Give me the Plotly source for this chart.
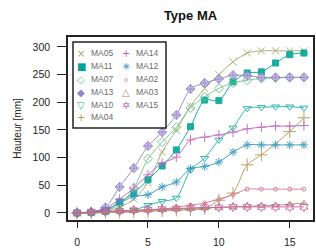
import plotly.graph_objects as go

# ---------------- data ----------------
days = list(range(17))
x_ticks = [0, 5, 10, 15]
y_ticks = [0, 50, 100, 150, 200, 250, 300]

MA05 = [0, 1, 3, 10, 25, 55, 110, 150, 193, 225, 250, 273, 289, 293, 293, 293, 293]
MA11 = [0, 1, 3, 20, 36, 60, 85, 114, 156, 204, 203, 237, 253, 255, 271, 286, 289]
MA07 = [0, 1, 4, 15, 45, 98, 128, 155, 190, 210, 225, 235, 240, 243, 244, 245, 245]
MA13 = [0, 2, 10, 47, 81, 121, 146, 177, 224, 235, 242, 249, 248, 245, 245, 245, 245]
MA10 = [0, 0, 1, 2, 5, 14, 21, 27, 78, 99, 132, 154, 189, 191, 192, 192, 190]
MA04 = [0, 0, 1, 1, 2, 3, 4, 5, 6, 8, 23, 36, 87, 105, None, 147, 172]
MA14 = [0, 2, 8, 25, 45, 69, 90, 101, 132, 137, 141, 146, 152, 155, 157, 157, 158]
MA12 = [0, 2, 6, 18, 30, 33, 47, 56, 80, 84, 92, 110, 123, 123, 123, 123, 123]
MA02 = [0, 1, 2, 3, 4, 5, 7, 10, 14, 18, 25, 33, 43, 43, 43, 43, 43]
MA03 = [0, 1, 2, 3, 4, 5, 6, 7, 8, 9, 10, 11, 12, 13, 14, 16, 18]
MA15 = [0, 2, 3, 4, 5, 6, 7, 8, 9, 10, 10, 11, 11, 11, 11, 11, 11]

series = [
    # name, values, colour, plotly symbol, legend glyph, size
    ("MA05", MA05, "#a3ab6c", "x-thin-open", "×", 7),
    ("MA11", MA11, "#00a594", "square-dot", "■", 6),
    ("MA07", MA07, "#6cc886", "diamond-open", "◇", 7),
    ("MA13", MA13, "#9484c8", "diamond-cross", "◆", 7),
    ("MA10", MA10, "#1fb3a6", "triangle-down-open", "▽", 7),
    ("MA04", MA04, "#b39a52", "cross-thin-open", "+", 9),
    ("MA14", MA14, "#c064bc", "cross-thin-open", "+", 7),
    ("MA12", MA12, "#2f95bd", "asterisk-open", "✳", 7),
    ("MA02", MA02, "#d67a90", "circle-open", "∘", 4),
    ("MA03", MA03, "#a8946a", "triangle-up-open", "△", 6),
    ("MA15", MA15, "#cc5aa4", "hexagram-open", "✡", 7),
]

fig = go.Figure()
for name, vals, col, sym, glyph, size in series:
    fill = col
    if sym == "diamond-cross":
        fill = "#c4bbe6"
    fig.add_trace(go.Scatter(
        x=days, y=vals, name=name, mode="lines+markers",
        line=dict(color=col, width=1, shape="spline", smoothing=0.8),
        connectgaps=True,
        marker=dict(symbol=sym, size=size, color=fill,
                    line=dict(color=col, width=1)),
        opacity=0.9,
        showlegend=False,
    ))

# ---- plot-area geometry (pixels) for the manual legend ----
W, H = 316, 250
L, R, T, B = 68, 3, 37, 30
pw, ph = W - L - R, H - T - B


def px_x(p):
    return (p - L) / pw


def px_y(p):
    return (H - B - p) / ph


# legend box
fig.add_shape(type="rect", xref="paper", yref="paper",
              x0=px_x(73), x1=px_x(166), y0=px_y(128), y1=px_y(42),
              line=dict(color="#222222", width=1.5), fillcolor="white",
              layer="above")

col1 = series[:6]
col2 = series[6:]
row_y = [53, 66, 79, 92, 105, 117]
for ci, (col_entries, sx, tx) in enumerate([(col1, 81, 89), (col2, 126, 134)]):
    for ri, (name, vals, col, sym, glyph, size) in enumerate(col_entries):
        fig.add_annotation(xref="paper", yref="paper", x=px_x(sx), y=px_y(row_y[ri]),
                           text=glyph, showarrow=False, xanchor="center", yanchor="middle",
                           font=dict(color=col, size=10, family="DejaVu Sans"))
        fig.add_annotation(xref="paper", yref="paper", x=px_x(tx), y=px_y(row_y[ri]),
                           text=name, showarrow=False, xanchor="left", yanchor="middle",
                           font=dict(color="#6a6a6a", size=8.5, family="Liberation Sans"))

fig.update_layout(
    width=W, height=H,
    margin=dict(l=L, r=R, t=T, b=B),
    paper_bgcolor="white", plot_bgcolor="white",
    font=dict(family="Liberation Sans", size=10, color="#222222"),
    title=dict(text="<b>Type MA</b>", x=(L + pw / 2) / W, xanchor="center",
               y=1 - 15 / H, yanchor="middle",
               font=dict(size=13, color="#111111", family="Liberation Sans")),
    xaxis=dict(range=[-0.64, 16.64], tickvals=x_ticks, ticks="outside", ticklen=6,
               tickcolor="#222222", showgrid=False, zeroline=False,
               showline=True, linecolor="#222222", linewidth=1.5, mirror=True,
               ticklabelstandoff=6, tickfont=dict(size=10.5), automargin=False),
    yaxis=dict(range=[-12.7, 318], tickvals=y_ticks, ticks="outside", ticklen=9,
               tickcolor="#222222", showgrid=False, zeroline=False,
               showline=True, linecolor="#222222", linewidth=1.5, mirror=True,
               ticklabelstandoff=5, tickfont=dict(size=10.5), automargin=False,
               title=dict(text="Hauteur [mm]", standoff=9, font=dict(size=10))),
)

fig.write_html("out.html", config={"displayModeBar": False},
               post_script="document.body.style.margin='0';document.body.style.overflow='hidden';")
